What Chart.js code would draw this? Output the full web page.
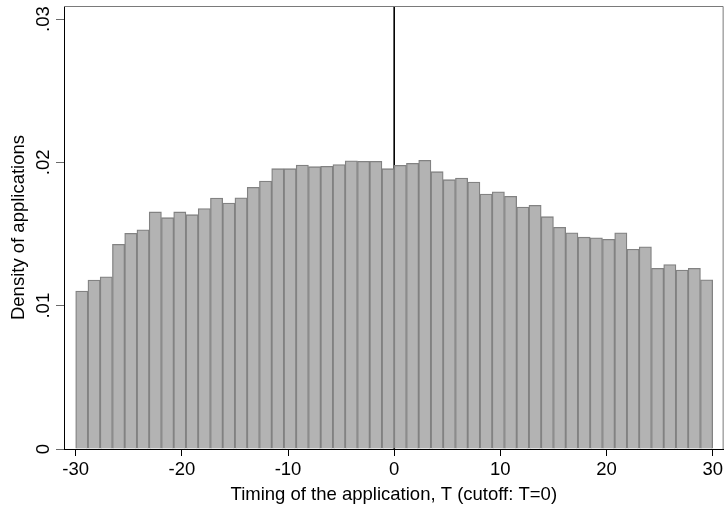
<!DOCTYPE html>
<html>
<head>
<meta charset="utf-8">
<script src="https://cdn.jsdelivr.net/npm/chart.js@4/dist/chart.umd.min.js"></script>
<style>
  html, body { margin: 0; padding: 0; background: #ffffff; }
  #wrap { width: 726px; height: 511px; position: relative; }
</style>
</head>
<body>
<div id="wrap"><canvas id="c" width="726" height="511"></canvas></div>
<script>
// ---- Data ----
const binStart = -30;
const binEnd = 30;
const binCount = 52;
const density = [
  0.01102, 0.01179, 0.01202, 0.01428, 0.01505, 0.01530, 0.01654, 0.01614, 0.01654, 0.01635,
  0.01677, 0.01751, 0.01716, 0.01753, 0.01826, 0.01870, 0.01956, 0.01956, 0.01981, 0.01970,
  0.01972, 0.01984, 0.02011, 0.02007, 0.02007, 0.01956, 0.01979, 0.01993, 0.02014, 0.01935,
  0.01879, 0.01891, 0.01863, 0.01779, 0.01795, 0.01763, 0.01688, 0.01700, 0.01621, 0.01547,
  0.01509, 0.01478, 0.01474, 0.01463, 0.01509, 0.01394, 0.01411, 0.01261, 0.01287, 0.01249,
  0.01261, 0.01181
];
const xTickValues = [-30, -20, -10, 0, 10, 20, 30];
const yTickValues = [0, 0.01, 0.02, 0.03];
const yTickLabels = ['0', '.01', '.02', '.03'];
const cutoff = 0;
const xTitle = 'Timing of the application, T (cutoff: T=0)';
const yTitle = 'Density of applications';

const binWidth = (binEnd - binStart) / binCount;
const barData = density.map((v, i) => ({ x: binStart + binWidth * (i + 0.5), y: v }));

const FONT = '"Liberation Sans", Arial, Helvetica, sans-serif';
const X_MIN = -31.1, X_MAX = 31.03, Y_MIN = 0, Y_MAX = 0.03091;

const framePlugin = {
  id: 'frame',
  afterDraw(chart) {
    const { ctx, chartArea: a, scales } = chart;
    ctx.save();
    // top and right outline of plot region
    ctx.strokeStyle = '#7a7a7a';
    ctx.lineWidth = 1;
    ctx.beginPath();
    ctx.moveTo(a.left, a.top + 0.5);
    ctx.lineTo(a.right - 0.5, a.top + 0.5);
    ctx.lineTo(a.right - 0.5, a.bottom);
    ctx.stroke();
    // rotated y tick labels
    ctx.fillStyle = '#000';
    ctx.font = '18.5px ' + FONT;
    ctx.textAlign = 'center';
    ctx.textBaseline = 'middle';
    yTickValues.forEach((v, i) => {
      const py = scales.y.getPixelForValue(v);
      ctx.save();
      ctx.translate(44, py);
      ctx.rotate(-Math.PI / 2);
      ctx.fillText(yTickLabels[i], 0, 0);
      ctx.restore();
    });
    ctx.restore();
  }
};

new Chart(document.getElementById('c'), {
  data: {
    datasets: [
      {
        type: 'bar',
        data: barData,
        backgroundColor: '#b3b3b3',
        borderColor: '#828282',
        borderWidth: 1.3,
        barPercentage: 1,
        categoryPercentage: 1,
        order: 1
      },
      {
        type: 'line',
        data: [{ x: cutoff, y: Y_MIN }, { x: cutoff, y: Y_MAX }],
        borderColor: '#000',
        borderWidth: 1.6,
        pointRadius: 0,
        fill: false,
        order: 2
      }
    ]
  },
  options: {
    responsive: false,
    animation: false,
    events: [],
    layout: { padding: { top: 6, right: 1, left: 0, bottom: 0 } },
    plugins: { legend: { display: false }, tooltip: { enabled: false } },
    scales: {
      x: {
        type: 'linear',
        min: X_MIN,
        max: X_MAX,
        offset: false,
        afterBuildTicks(s) { s.ticks = xTickValues.map(v => ({ value: v })); },
        afterFit(s) { s.height = 62; },
        grid: { display: true, drawOnChartArea: false, drawTicks: true, tickLength: 7, color: '#000', offset: false },
        border: { display: true, color: '#000', width: 1 },
        ticks: { color: '#000', font: { family: FONT, size: 18.5 }, padding: 3, maxRotation: 0, autoSkip: false },
        title: { display: true, text: xTitle, color: '#000', font: { family: FONT, size: 18.5 }, padding: { top: 0, bottom: 5 } }
      },
      y: {
        type: 'linear',
        min: Y_MIN,
        max: Y_MAX,
        afterBuildTicks(s) { s.ticks = yTickValues.map(v => ({ value: v })); },
        afterFit(s) { s.width = 64; },
        grid: { display: true, drawOnChartArea: false, drawTicks: true, tickLength: 8, color: '#6a6a6a' },
        border: { display: true, color: '#000', width: 1 },
        ticks: { display: false },
        title: { display: true, text: yTitle, color: '#000', font: { family: FONT, size: 18.5 }, padding: { top: 8, bottom: 0 } }
      }
    }
  },
  plugins: [framePlugin]
});
</script>
</body>
</html>
